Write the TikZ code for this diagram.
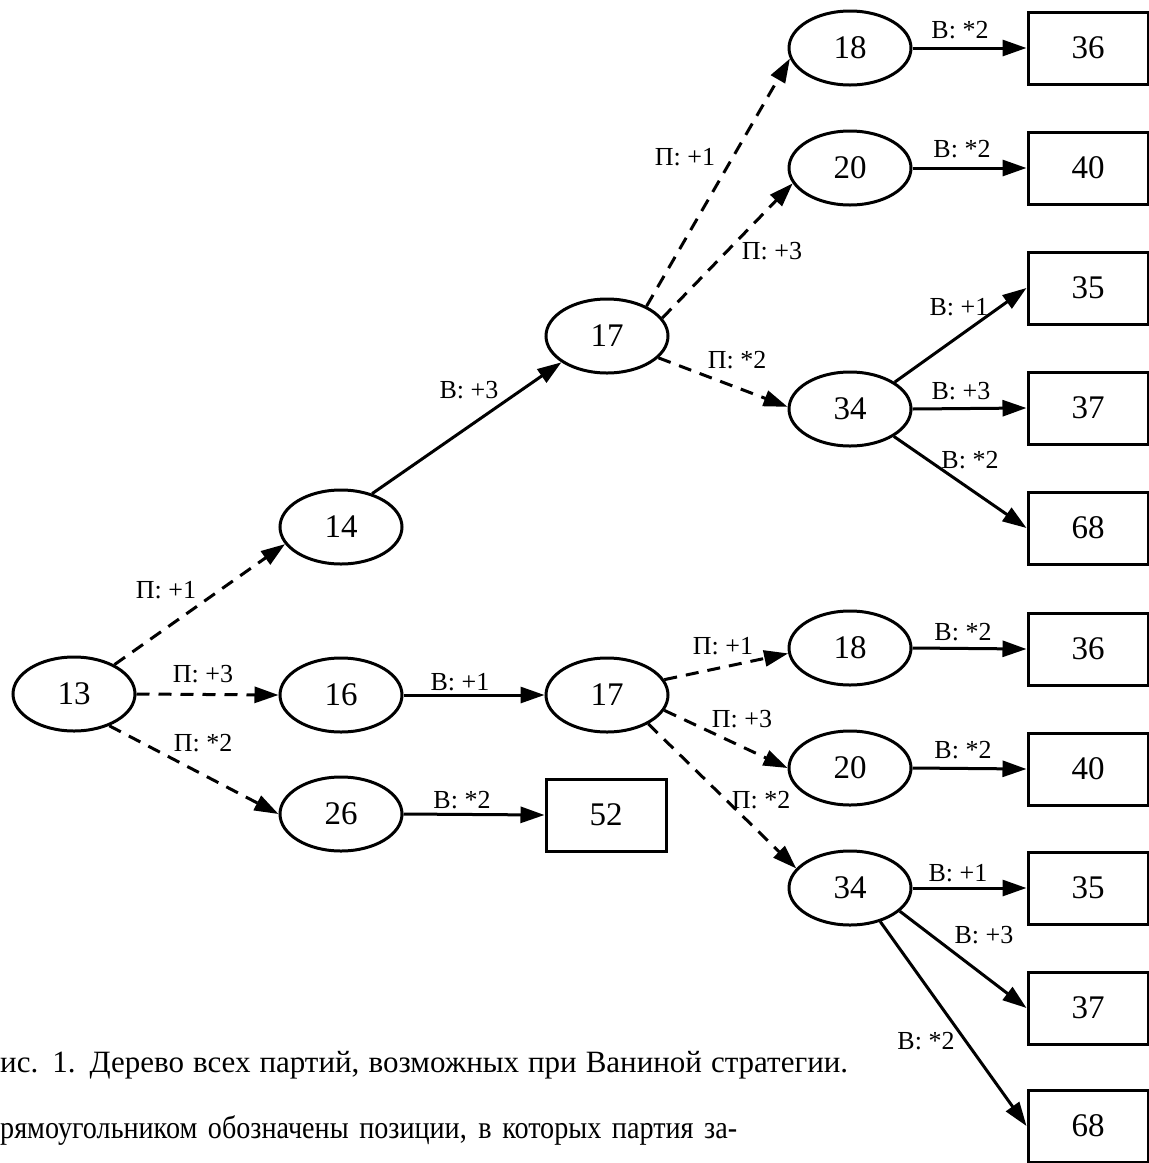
\documentclass[tikz,border=0pt]{standalone}
\usepackage{fontspec}
\setmainfont{Liberation Serif}
\newfontfamily\narrowserif[FakeStretch=0.88]{Liberation Serif}
\usetikzlibrary{arrows.meta,shapes.geometric}
\begin{document}
\begin{tikzpicture}[x=1pt,y=-1pt,
  ell/.style={draw,ellipse,line width=3pt,minimum width=122pt,minimum height=74pt,inner sep=0pt,font=\fontsize{33}{36}\selectfont},
  box/.style={draw,rectangle,line width=3pt,minimum width=120pt,minimum height=72pt,inner sep=0pt,font=\fontsize{33}{36}\selectfont},
  lbl/.style={inner sep=0pt,font=\fontsize{26}{28}\selectfont},
  captxt/.style={inner sep=0pt,anchor=base west,font=\fontsize{32}{36}\selectfont},
  mv/.style={line width=3pt,-{Triangle[length=24pt,width=16pt]}},
  pm/.style={mv,dash pattern=on 13pt off 9pt}]
\useasboundingbox (0,0) rectangle (1149,1163);
% nodes
\node[ell] (a13) at (74,694) {13};
\node[ell] (b14) at (341,527) {14};
\node[ell] (b16) at (341,695) {16};
\node[ell] (b26) at (341,814) {26};
\node[box] (r52) at (606,815) {52};
\node[ell] (c17t) at (607,336) {17};
\node[ell] (c17b) at (607,695) {17};
\node[ell] (d18t) at (850,48) {18};
\node[ell] (d20t) at (850,168) {20};
\node[ell] (d34t) at (850,409) {34};
\node[ell] (e18b) at (850,648) {18};
\node[ell] (e20b) at (850,768) {20};
\node[ell] (e34b) at (850,888) {34};
\node[box] (r36t) at (1088,48) {36};
\node[box] (r40t) at (1088,168) {40};
\node[box] (r35t) at (1088,288) {35};
\node[box] (r37t) at (1088,408) {37};
\node[box] (r68t) at (1088,528) {68};
\node[box] (r36b) at (1088,649) {36};
\node[box] (r40b) at (1088,769) {40};
\node[box] (r35b) at (1088,888) {35};
\node[box] (r37b) at (1088,1008) {37};
\node[box] (r68b) at (1088,1126) {68};
% edges
\draw[pm] (a13.36) -- (b14.197);
\draw[pm] (a13.0) -- (b16.180);
\draw[pm] (a13.-42) -- (b26.180);
\draw[mv] (b14.47) -- (c17t.210);
\draw[mv] (b16.0) -- (c17b.180);
\draw[mv] (b26.0) -- (r52.west);
\draw[pm] (c17t.37) -- (d18t.190);
\draw[pm] (c17t.18) -- (d20t.195);
\draw[pm] (c17t.-23) -- (d34t.178);
\draw[mv] (d18t.0) -- (r36t.west);
\draw[mv] (d20t.0) -- (r40t.west);
\draw[mv] (d34t.31) -- (r35t.west);
\draw[mv] (d34t.0) -- (r37t.west);
\draw[mv] (d34t.-32) -- (r68t.west);
\draw[pm] (c17b.15) -- (e18b.185);
\draw[pm] (c17b.-15) -- (e20b.180);
\draw[pm] (c17b.-35) -- (e34b.160);
\draw[mv] (e18b.0) -- (r36b.west);
\draw[mv] (e20b.0) -- (r40b.west);
\draw[mv] (e34b.0) -- (r35b.west);
\draw[mv] (e34b.-25) -- (r37b.west);
\draw[mv] (e34b.-48) -- (r68b.west);
% labels
\node[lbl] (l1) at (166,590) {П: +1};
\node[lbl] (l2) at (203,674) {П: +3};
\node[lbl] (l3) at (203,743) {П: *2};
\node[lbl] (l4) at (469,390) {В: +3};
\node[lbl] (l5) at (460,682) {В: +1};
\node[lbl] (l6) at (462,800) {В: *2};
\node[lbl] (l7) at (685,157) {П: +1};
\node[lbl] (l8) at (772,251) {П: +3};
\node[lbl] (l9) at (737,360) {П: *2};
\node[lbl] (l10) at (960,30) {В: *2};
\node[lbl] (l11) at (962,149) {В: *2};
\node[lbl] (l12) at (959,307) {В: +1};
\node[lbl] (l13) at (961,391) {В: +3};
\node[lbl] (l14) at (970,460) {В: *2};
\node[lbl] (l15) at (723,646) {П: +1};
\node[lbl] (l16) at (742,719) {П: +3};
\node[lbl] (l17) at (761,800) {П: *2};
\node[lbl] (l18) at (963,632) {В: *2};
\node[lbl] (l19) at (963,750) {В: *2};
\node[lbl] (l20) at (958,873) {В: +1};
\node[lbl] (l21) at (984,935) {В: +3};
\node[lbl] (l22) at (926,1041) {В: *2};
% caption
\node[captxt,font=\fontsize{31}{36}\selectfont] (t1) at (0,1072) {\makebox[848pt][s]{ис. 1. Дерево всех партий, возможных при Ваниной стратегии.}};
\node[captxt] (t2) at (0,1138) {\narrowserif\makebox[737pt][s]{рямоугольником обозначены позиции, в которых партия за-}};
\end{tikzpicture}
\end{document}
